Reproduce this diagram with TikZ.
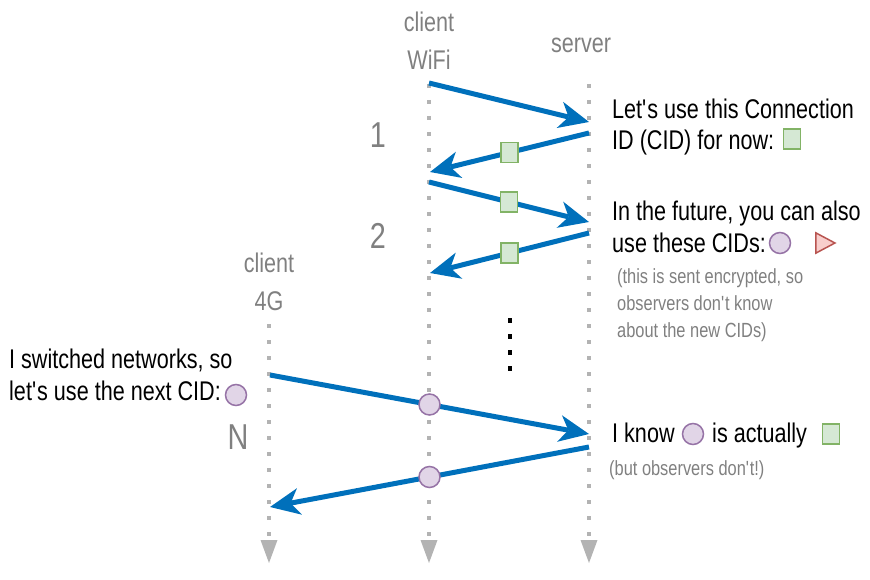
\documentclass[tikz,border=0pt]{standalone}
\usepackage{fontspec}
\setmainfont{Liberation Sans}[FakeStretch=0.8]
\usetikzlibrary{arrows.meta,shapes.geometric}
\definecolor{msgblue}{HTML}{0070BB}
\definecolor{lanegray}{HTML}{B3B3B3}
\definecolor{labelgray}{HTML}{808080}
\definecolor{sqline}{HTML}{82B366}
\definecolor{sqfill}{HTML}{D5E8D4}
\definecolor{ciline}{HTML}{9673A6}
\definecolor{cifill}{HTML}{E1D5E7}
\definecolor{triline}{HTML}{B85450}
\definecolor{trifill}{HTML}{F8CECC}
\def\msgfont{\fontsize{27}{31.5}\selectfont}
\def\notefont{\fontsize{20.5}{26.7}\selectfont}
\def\lanefont{\fontsize{27}{38}\selectfont}
\def\stepfont{\fontsize{36}{36}\selectfont}
\def\q{\textquotesingle}

\begin{document}
\begin{tikzpicture}[x=1pt, y=-1pt,
	lifeline/.style={draw=lanegray, line width=4pt, dash pattern=on 4pt off 12pt,
		-{Triangle[length=23pt, width=17pt, line width=0pt]}},
	msg/.style={draw=msgblue, line width=5pt,
		-{Stealth[length=30pt, width=27pt, inset=9pt, line width=0pt]}},
	cidsq/.style={draw=sqline, fill=sqfill, line width=1.5pt, inner sep=0pt,
		minimum width=17pt, minimum height=20pt},
	cidci/.style={draw=ciline, fill=cifill, line width=1.5pt, circle, inner sep=0pt,
		minimum size=21pt},
	cidtri/.style={draw=triline, fill=trifill, line width=1.5pt, isosceles triangle,
		isosceles triangle apex angle=56, inner sep=0pt, minimum height=19pt},
	txt/.style={inner sep=0pt, anchor=base west, align=left, font=\msgfont},
	note/.style={inner sep=0pt, anchor=base west, align=left, font=\notefont, text=labelgray},
	lane/.style={inner sep=0pt, anchor=base, align=center, font=\lanefont, text=labelgray},
	stepno/.style={inner sep=0pt, anchor=base, font=\stepfont, text=labelgray}]
		%%%%% START %%%%%
		\useasboundingbox (0, 0) rectangle (870, 580);
		
		\node[lane] (wifilbl) at (429, 70) {client\\WiFi};
		\node[lane] (srvlbl) at (581, 53) {server};
		\node[lane] (g4lbl) at (269, 310) {client\\4G};
		
		\coordinate (wifitop) at (429, 84);
		\coordinate (wifiend) at (429, 563);
		\coordinate (srvtop) at (589, 84);
		\coordinate (srvend) at (589, 563);
		\coordinate (g4top) at (269, 324);
		\coordinate (g4end) at (269, 563);
		\draw[lifeline] (wifitop) -- (wifiend);
		\draw[lifeline] (srvtop) -- (srvend);
		\draw[lifeline] (g4top) -- (g4end);
		
		\node[stepno] (one) at (378, 148) {1};
		\node[stepno] (two) at (378, 248) {2};
		\node[stepno] (enn) at (238, 449) {N};
		
		\coordinate (w1) at (429, 83);
		\coordinate (s1) at (589, 122);
		\coordinate (s2) at (589, 133);
		\coordinate (w2) at (430, 172);
		\coordinate (w3) at (429, 182);
		\coordinate (s3) at (589, 222);
		\coordinate (s4) at (589, 233);
		\coordinate (w4) at (430, 273);
		\coordinate (g5) at (270, 375);
		\coordinate (s5) at (589, 434);
		\coordinate (s6) at (589, 447);
		\coordinate (g6) at (270, 507);
		
		\draw[msg] (w1) -- (s1);
		\draw[msg] (s2) -- node[cidsq] (sqa) {} (w2);
		\draw[msg] (w3) -- node[cidsq] (sqb) {} (s3);
		\draw[msg] (s4) -- node[cidsq] (sqc) {} (w4);
		\draw[msg] (g5) -- node[cidci] (cia) {} (s5);
		\draw[msg] (s6) -- node[cidci] (cib) {} (g6);
		
		\draw[line width=4pt, dash pattern=on 5pt off 11pt] (510, 318) -- (510, 371);
		
		\node[txt] (lets) at (612, 150) {Let\q s use this Connection\\ID (CID) for now:};
		\node[cidsq] (sqd) at (792, 139) {};
		
		\node[txt] (future) at (612, 252) {In the future, you can also\\use these CIDs:};
		\node[cidci] (cic) at (780, 243) {};
		\node[cidtri] (tria) at (822, 243) {};
		
		\node[note] (encr) at (617, 337) {(this is sent encrypted, so\\observers don\q t know\\about the new CIDs)};
		
		\node[txt] (switch) at (9, 400) {I switched networks, so\\let\q s use the next CID:};
		\node[cidci] (cid) at (236, 395) {};
		
		\node[txt] (know) at (612, 442) {I know};
		\node[cidci] (cie) at (693, 434) {};
		\node[txt] (actual) at (712, 442) {is actually};
		\node[cidsq] (sqe) at (831, 434) {};
		
		\node[note] (butobs) at (609, 475) {(but observers don\q t!)};
		
		%%%%% END %%%%%
\end{tikzpicture}
\end{document}
